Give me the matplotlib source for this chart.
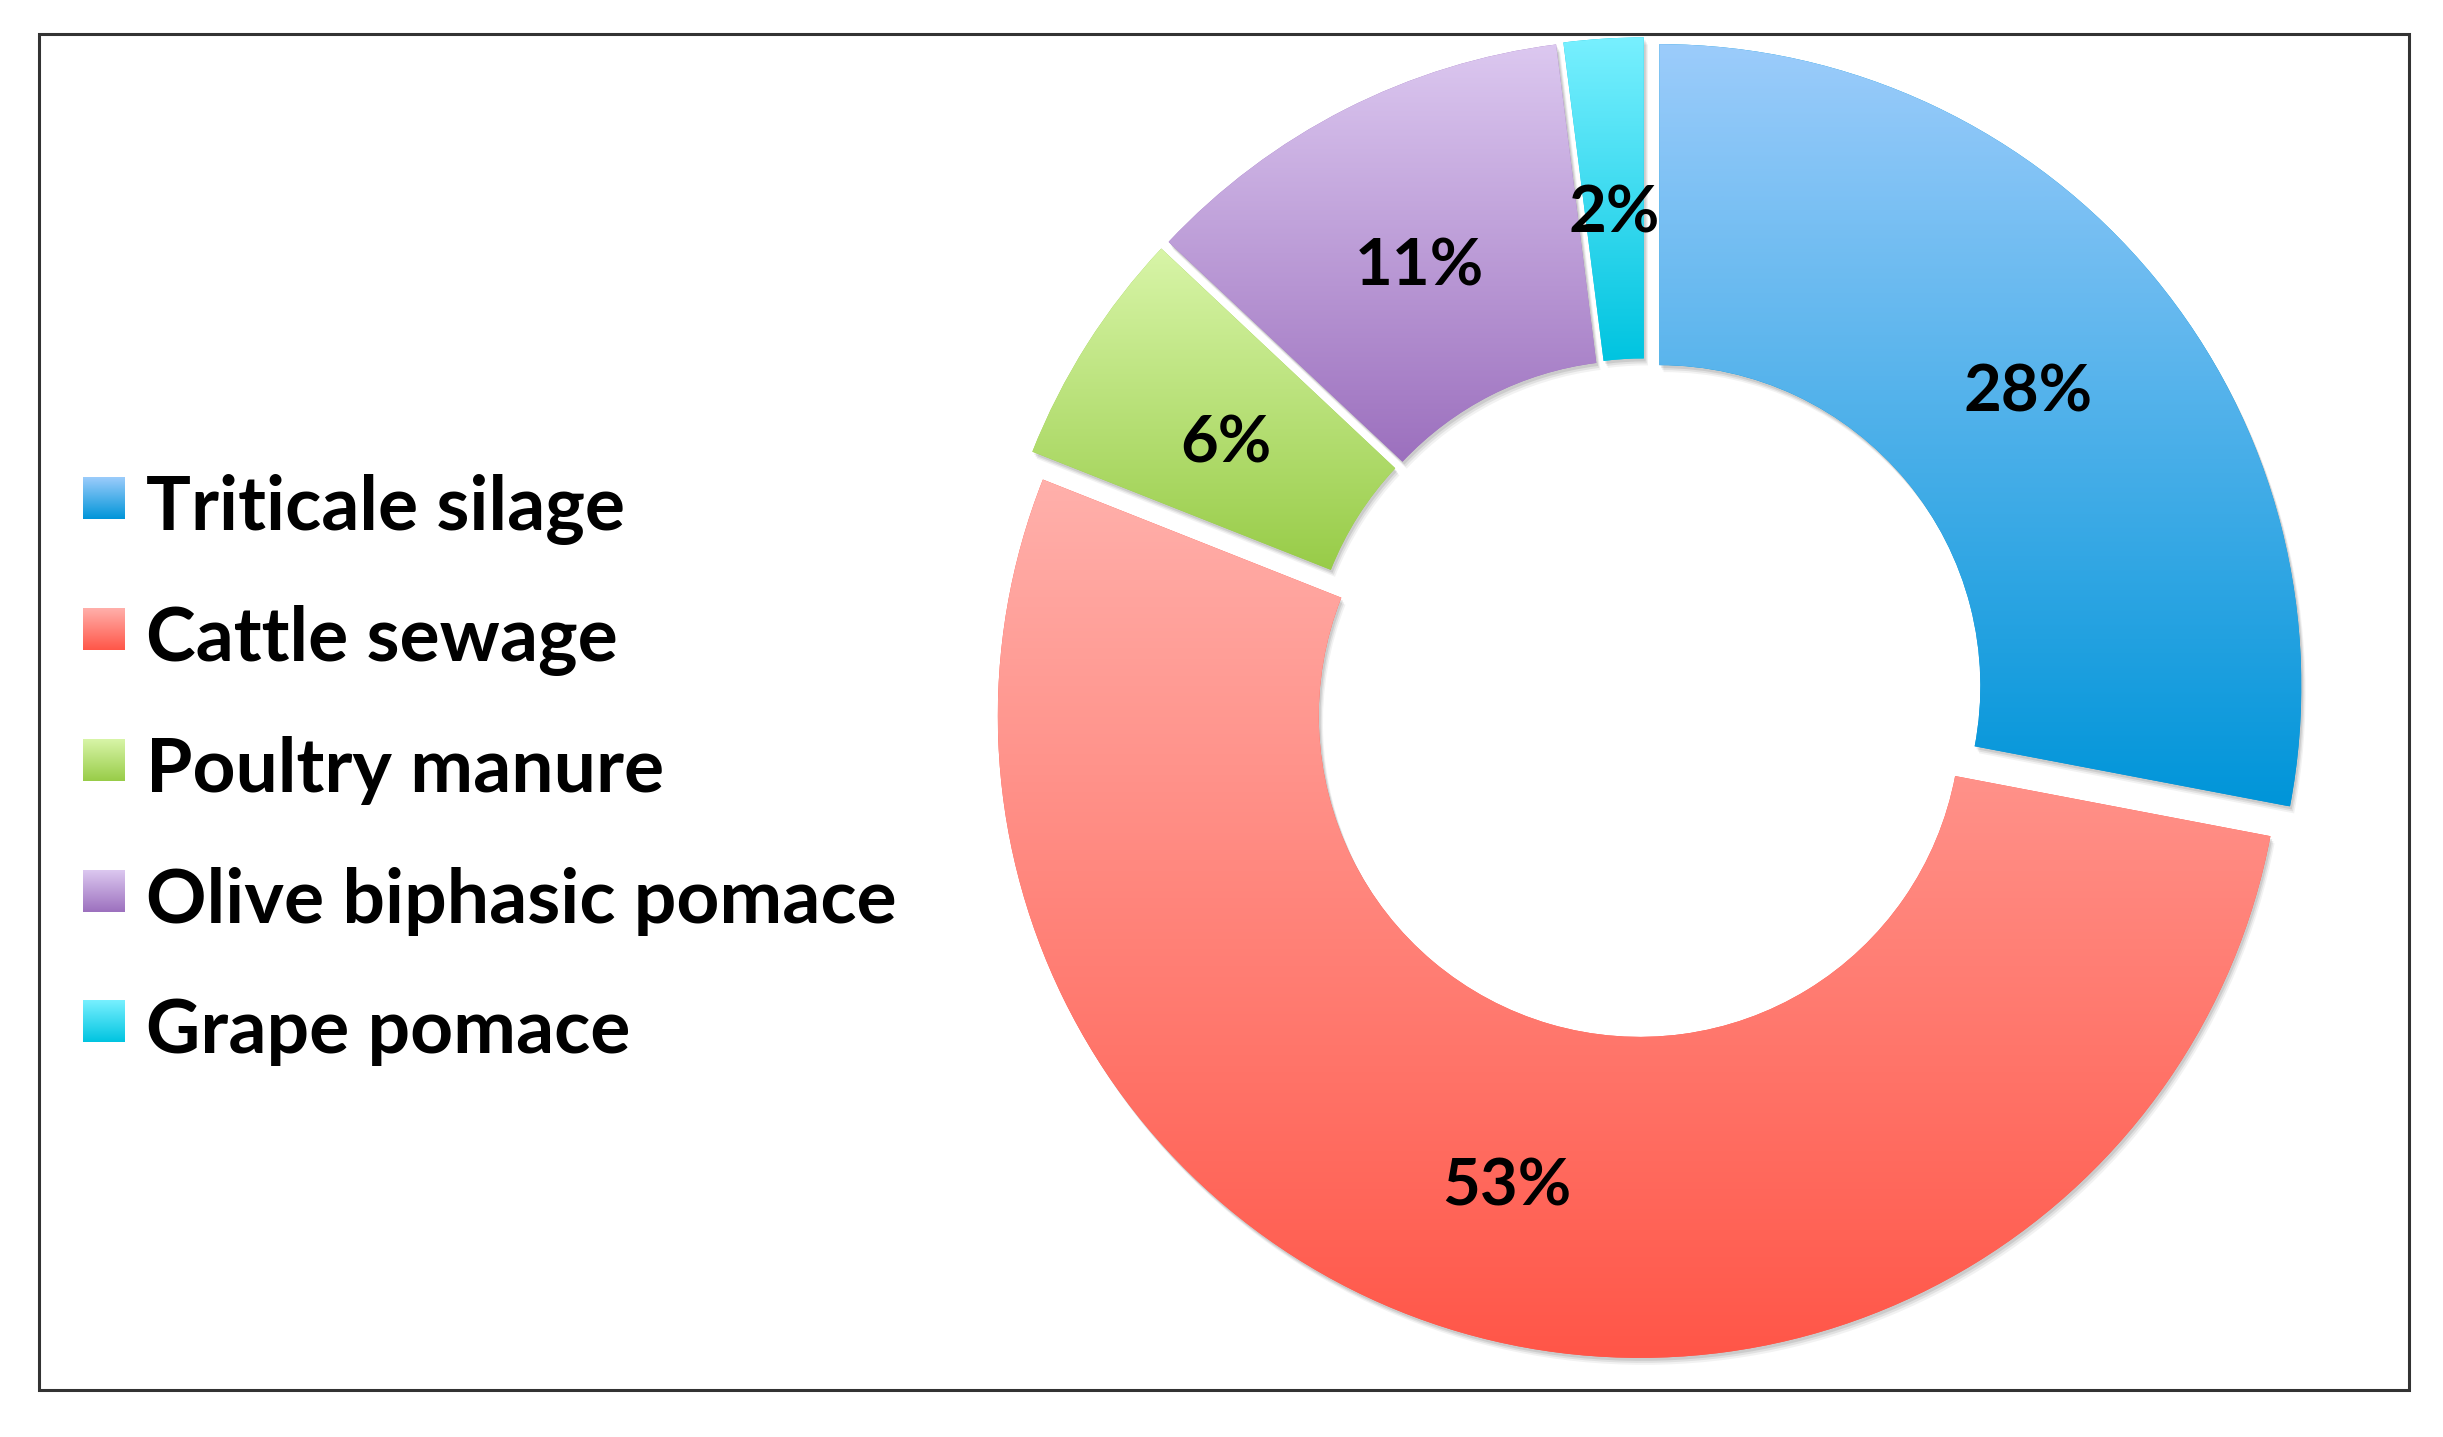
import numpy as np
import matplotlib
matplotlib.use("Agg")
import matplotlib.pyplot as plt
from matplotlib.colors import LinearSegmentedColormap
from matplotlib.patches import Rectangle

categories = ["Triticale silage", "Cattle sewage", "Poultry manure",
              "Olive biphasic pomace", "Grape pomace"]
values = [28, 53, 6, 11, 2]
top_colors = ["#9CCCFB", "#FFB0AB", "#D8F5A8", "#DCC8F0", "#78F0FF"]
bottom_colors = ["#0095D9", "#FF5648", "#98CC48", "#9C70BE", "#00C4E0"]

W, H = 2443, 1437
fig = plt.figure(figsize=(W / 100, H / 100), dpi=100)
ax = fig.add_axes([0, 0, 1, 1])
ax.set_axis_off()

FONT = "Lato"
cx, cy = 1645, H - 698
R = 642

wedges, texts, autotexts = ax.pie(
    values, radius=R, center=(cx, cy), startangle=90, counterclock=False,
    explode=[0.029 * R] * len(values), autopct="%1.0f%%", pctdistance=0.745,
    wedgeprops=dict(width=R * 0.5, edgecolor="none"),
    textprops=dict(fontsize=47, fontweight="bold", family=FONT, color="black"),
    frame=True)

grad = np.linspace(0, 1, 256).reshape(-1, 1)


def gradient_fill(patch, ext, top, bottom, zorder):
    cmap = LinearSegmentedColormap.from_list("g", [bottom, top])
    im = ax.imshow(grad, cmap=cmap, origin="lower", aspect="auto",
                   extent=[ext.x0, ext.x1, ext.y0, ext.y1],
                   interpolation="bicubic", zorder=zorder)
    im.set_clip_path(patch)


for w, t, b in zip(wedges, top_colors, bottom_colors):
    w.set_facecolor(b)
    w.set_zorder(2)
    # soft shadow
    for k, a in zip([7, 5, 3], [0.05, 0.07, 0.09]):
        sh = matplotlib.patches.PathPatch(w.get_path(), facecolor="black",
                                          edgecolor="none", alpha=a, zorder=1.5)
        sh.set_transform(matplotlib.transforms.Affine2D().translate(k * 0.6, -k)
                         + ax.transData)
        ax.add_patch(sh)
    ext = w.get_path().get_extents()
    gradient_fill(w, ext, t, b, 2.5)

for at in autotexts:
    at.set_zorder(5)
    x, y = at.get_position()
    at.set_position((x, y - 12))

# Legend (manual)
baselines = [530, 661, 792, 923, 1053]
for name, t, b, yb in zip(categories, top_colors, bottom_colors, baselines):
    yd = H - yb
    sq = Rectangle((83, yd + 11), 42, 42, facecolor=b, edgecolor="none", zorder=3)
    ax.add_patch(sq)
    gradient_fill(sq, sq.get_bbox(), t, b, 3.5)
    ax.text(146, yd, name, fontsize=54, fontweight="bold", family=FONT,
            color="black", ha="left", va="baseline", zorder=5)

# Border
ax.add_patch(Rectangle((39, H - 1390), 2409 - 39, 1390 - 34, facecolor="none",
                       edgecolor="#333333", linewidth=2.2, zorder=6))

ax.set_xlim(0, W)
ax.set_ylim(0, H)
ax.set_aspect("auto")
fig.savefig("out.png", dpi=100, facecolor="white")
